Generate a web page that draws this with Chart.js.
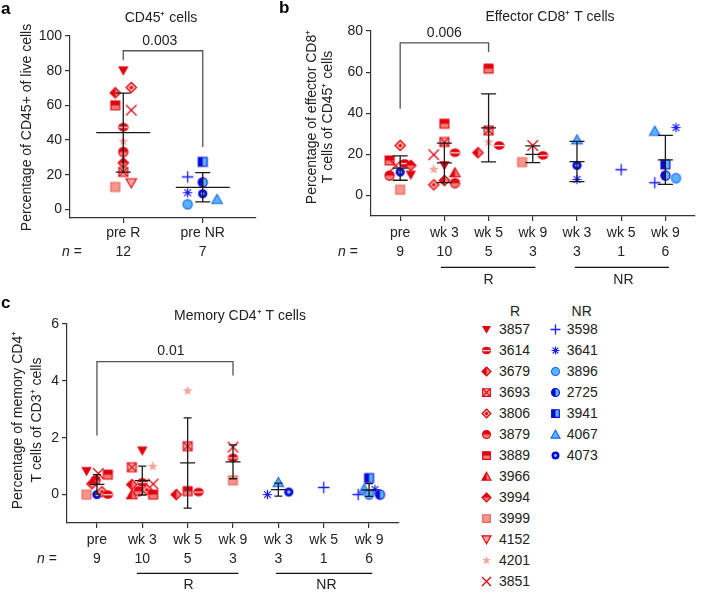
<!DOCTYPE html>
<html>
<head>
<meta charset="utf-8">
<title>Immune cell percentages by response</title>
<script src="https://cdn.jsdelivr.net/npm/chart.js@4.4.1/dist/chart.umd.min.js"></script>
<style>
  body { margin: 0; background: #fff; font-family: "Liberation Sans", Arial, Helvetica, sans-serif; color: #222; }
  #fig { position: relative; width: 701px; height: 592px; overflow: hidden; }
  #fig canvas.plot { position: absolute; }
  .letter { position: absolute; font-weight: bold; font-size: 17px; line-height: 17px; color: #000; }
  .leg { position: absolute; font-size: 14px; line-height: 16px; white-space: nowrap; }
  .legmark { position: absolute; }
</style>
</head>
<body>
<div id="fig">
  <canvas id="chartA" class="plot" width="262" height="290" style="left:0;top:0"></canvas>
  <canvas id="chartB" class="plot" width="439" height="290" style="left:262px;top:0"></canvas>
  <canvas id="chartC" class="plot" width="470" height="302" style="left:0;top:290px"></canvas>
  <div class="letter" style="left:1px;top:0">a</div>
  <div class="letter" style="left:279px;top:-1px">b</div>
  <div class="letter" style="left:1px;top:294px">c</div>
  <div id="legend"></div>
</div>
<script>
// patients, in legend order
const patientsR = ["3857", "3614", "3679", "3693", "3806", "3879", "3889", "3966", "3994", "3999", "4152", "4201", "3851"];
const patientsNR = ["3598", "3641", "3896", "2725", "3941", "4067", "4073"];

// a: CD45+ cells, % of live cells
const cd45Cats = ["pre R", "pre NR"];
const cd45N = [12, 7];
const cd45Ticks = [0, 20, 40, 60, 80, 100];
const cd45Ids = [
    ["3857", "3806", "3679", "3889", "3851", "3614", "4201", "3879", "3994", "3693", "3999", "4152"],
    ["3941", "3598", "2725", "3641", "4073", "3896", "4067"],
];
const cd45Vals = [
    [80, 70.3, 67.2, 60, 57.2, 47.4, 39.3, 33.1, 26.8, 21.6, 12.9, 15.2],
    [27.4, 18.7, 15.6, 9.6, 9.0, 2.9, 5.8],
];

// b: effector CD8+ T cells, % of CD45+ cells
const effCats = ["pre", "wk 3", "wk 5", "wk 9", "wk 3", "wk 5", "wk 9"];
const effN = [9, 10, 5, 3, 3, 1, 6];
const effTicks = [0, 20, 40, 60, 80];
const effIds = [
    ["3806", "3889", "3851", "3614", "3994", "3857", "4073", "3879", "3999"],
    ["3889", "3693", "3614", "3851", "3857", "4201", "3966", "3679", "3806", "3879"],
    ["3889", "3693", "4201", "3614", "3679"],
    ["3851", "3614", "3999"],
    ["4067", "4073", "3641"],
    ["3598"],
    ["4067", "3641", "3941", "2725", "3896", "3598"],
];
const effVals = [
    [24.3, 17.0, 14.5, 15.6, 14.6, 10.0, 11.4, 9.7, 2.8],
    [34.9, 26.0, 20.8, 19.8, 14.6, 12.7, 11.1, 7.3, 5.2, 6.0],
    [61.7, 31.6, 26.0, 24.3, 20.8],
    [24.3, 19.5, 16.2],
    [27.1, 14.6, 7.8],
    [12.5],
    [31.3, 33.0, 15.1, 9.7, 8.4, 6.2],
];

// c: memory CD4+ T cells, % of CD3+ cells
const memCats = ["pre", "wk 3", "wk 5", "wk 9", "wk 3", "wk 5", "wk 9"];
const memN = [9, 10, 5, 3, 3, 1, 6];
const memTicks = [0, 2, 4, 6];
const memIds = [
    ["3857", "3851", "3879", "3889", "3994", "3999", "4073", "3806", "3614"],
    ["3857", "3693", "4201", "3679", "3614", "3851", "3966", "3879", "3806", "3889"],
    ["4201", "3693", "3679", "3889", "3614"],
    ["3851", "3614", "3999"],
    ["4067", "4073", "3641"],
    ["3598"],
    ["3941", "4067", "3641", "3598", "3896", "2725"],
];
const memVals = [
    [0.82, 0.74, 0.50, 0.70, 0.38, 0, 0, 0.10, 0],
    [1.54, 0.96, 0.99, 0.35, 0.43, 0.37, 0, 0.12, 0.17, 0],
    [3.65, 1.70, 0, 0.12, 0.09],
    [1.67, 1.29, 0.50],
    [0.43, 0.09, 0],
    [0.25],
    [0.58, 0.20, 0.18, 0, 0, 0],
];

// horizontal spread of the dots inside a category (layout only, category units)
const cd45Jit = [[0, 0.1, -0.1, -0.1, 0.1, 0, 0, 0, 0, 0, -0.1, 0.1], [0, -0.19, 0, -0.19, 0, -0.19, 0.18]];
const effJit = [
    [0, -0.24, -0.1, 0.1, 0.24, 0.24, 0, -0.24, 0],
    [0, 0, 0.24, -0.24, 0, -0.24, 0.24, 0, -0.24, 0.24],
    [0, 0, 0, 0.24, -0.24],
    [0, 0.23, -0.24],
    [0, 0, 0],
    [0],
    [-0.24, 0.24, 0, 0, 0.24, -0.24],
];
const memJit = [
    [-0.23, 0.03, -0.03, 0.24, -0.11, -0.23, 0, 0.11, 0.24],
    [0, -0.23, 0.23, -0.23, 0, 0.24, -0.23, -0.08, 0.1, 0.24],
    [0, 0, -0.25, 0, 0.24],
    [0, 0, 0],
    [0, 0.23, -0.24],
    [0],
    [0, -0.11, 0.13, -0.24, 0, 0.24],
];

const FONT = '"Liberation Sans", Arial, Helvetica, sans-serif';
const TXT = "#222";
const AX = "#333";
const RED = "#e1000f", LRED = "#f47a74", PINK = "#f7a39c";
const BLUE = "#1b1bff", DBLUE = "#0a0ad8", LBLUE = "#58b4ff";

Chart.defaults.font.family = FONT;
Chart.defaults.color = TXT;

// marker glyphs, one per patient
function drawMarker(ctx, id, cx, cy, s) {
    const h = s / 2;
    const path = (pts) => {
        ctx.beginPath();
        pts.forEach(([px, py], k) => (k ? ctx.lineTo(cx + px, cy + py) : ctx.moveTo(cx + px, cy + py)));
        ctx.closePath();
    };
    const circle = (r) => { ctx.beginPath(); ctx.arc(cx, cy, r, 0, Math.PI * 2); };
    const split = (shape, dark, light, side, stroke) => {
        ctx.save();
        shape();
        ctx.clip();
        ctx.fillStyle = light;
        ctx.fillRect(cx - s, cy - s, 2 * s, 2 * s);
        ctx.fillStyle = dark;
        if (side === "top") ctx.fillRect(cx - s, cy - s, 2 * s, s);
        else ctx.fillRect(cx - s, cy - s, s, 2 * s);
        ctx.restore();
        shape();
        ctx.strokeStyle = stroke || dark;
        ctx.stroke();
    };
    const triDown = () => path([[-h, -h * 0.8], [h, -h * 0.8], [0, h * 0.95]]);
    const triUp = () => path([[0, -h * 0.95], [h, h * 0.8], [-h, h * 0.8]]);
    const diamond = () => path([[0, -h], [h, 0], [0, h], [-h, 0]]);
    const q = h * 0.85;
    const square = () => path([[-q, -q], [q, -q], [q, q], [-q, q]]);
    const round = () => circle(h * 0.88);
    ctx.save();
    ctx.lineWidth = 1.1;
    ctx.lineJoin = "miter";
    switch (id) {
        case "3857":
            triDown(); ctx.fillStyle = RED; ctx.fill(); break;
        case "4152":
            triDown(); ctx.fillStyle = PINK; ctx.fill(); ctx.strokeStyle = RED; ctx.stroke(); break;
        case "3614":
            ctx.save(); ctx.translate(cx, cy); ctx.scale(1, 0.82);
            ctx.beginPath(); ctx.arc(0, 0, h, 0, Math.PI * 2); ctx.restore();
            ctx.fillStyle = RED; ctx.fill();
            ctx.fillStyle = "#fbd0cc"; ctx.fillRect(cx - h * 0.9, cy - 0.6, h * 1.8, 1.4);
            break;
        case "3679":
            split(diamond, RED, LRED, "left"); break;
        case "3693":
            square(); ctx.fillStyle = PINK; ctx.fill(); ctx.strokeStyle = RED; ctx.stroke();
            ctx.beginPath();
            ctx.moveTo(cx - q, cy - q); ctx.lineTo(cx + q, cy + q);
            ctx.moveTo(cx + q, cy - q); ctx.lineTo(cx - q, cy + q);
            ctx.stroke(); break;
        case "3806":
            diamond(); ctx.fillStyle = PINK; ctx.fill(); ctx.strokeStyle = RED; ctx.stroke();
            circle(1.5); ctx.fillStyle = RED; ctx.fill(); break;
        case "3879":
            split(round, RED, LRED, "top"); break;
        case "3889":
            split(square, RED, LRED, "top"); break;
        case "3966":
            split(triUp, RED, LRED, "left"); break;
        case "3994":
            split(diamond, RED, LRED, "top"); break;
        case "3999":
            square(); ctx.fillStyle = "#f5958d"; ctx.fill(); ctx.strokeStyle = "#e9625a"; ctx.stroke(); break;
        case "4201": {
            ctx.beginPath();
            for (let k = 0; k < 10; k++) {
                const r = k % 2 ? h * 0.42 : h;
                const a = -Math.PI / 2 + (k * Math.PI) / 5;
                k ? ctx.lineTo(cx + r * Math.cos(a), cy + r * Math.sin(a)) : ctx.moveTo(cx + r * Math.cos(a), cy + r * Math.sin(a));
            }
            ctx.closePath(); ctx.fillStyle = "#f8a59d"; ctx.fill(); break;
        }
        case "3851":
            ctx.strokeStyle = RED; ctx.lineWidth = 1.3; ctx.beginPath();
            ctx.moveTo(cx - h, cy - h); ctx.lineTo(cx + h, cy + h);
            ctx.moveTo(cx + h, cy - h); ctx.lineTo(cx - h, cy + h);
            ctx.stroke(); break;
        case "3598":
            ctx.strokeStyle = BLUE; ctx.lineWidth = 1.3; ctx.beginPath();
            ctx.moveTo(cx - h * 1.1, cy); ctx.lineTo(cx + h * 1.1, cy);
            ctx.moveTo(cx, cy - h * 1.1); ctx.lineTo(cx, cy + h * 1.1);
            ctx.stroke(); break;
        case "3641":
            ctx.strokeStyle = BLUE; ctx.lineWidth = 1.2; ctx.beginPath();
            for (let k = 0; k < 4; k++) {
                const a = (k * Math.PI) / 4;
                ctx.moveTo(cx - h * 0.9 * Math.cos(a), cy - h * 0.9 * Math.sin(a));
                ctx.lineTo(cx + h * 0.9 * Math.cos(a), cy + h * 0.9 * Math.sin(a));
            }
            ctx.stroke(); break;
        case "3896":
            round(); ctx.fillStyle = LBLUE; ctx.fill(); ctx.strokeStyle = "#1560ff"; ctx.stroke(); break;
        case "2725":
            split(round, DBLUE, LBLUE, "left", DBLUE); break;
        case "3941":
            split(square, DBLUE, LBLUE, "left", DBLUE); break;
        case "4067":
            triUp(); ctx.fillStyle = LBLUE; ctx.fill(); ctx.strokeStyle = "#1560ff"; ctx.stroke(); break;
        case "4073":
            round(); ctx.fillStyle = DBLUE; ctx.fill();
            circle(h * 0.33); ctx.fillStyle = "#8fcaff"; ctx.fill(); break;
    }
    ctx.restore();
}

function markerCanvas(id, s) {
    const c = document.createElement("canvas");
    c.width = c.height = Math.ceil(s) + 4;
    drawMarker(c.getContext("2d"), id, c.width / 2, c.height / 2, s);
    return c;
}

function summarise(vals) {
    return vals.map((v) => {
        const n = v.length;
        const mean = v.reduce((a, b) => a + b, 0) / n;
        const sd = n > 1 ? Math.sqrt(v.reduce((a, b) => a + (b - mean) ** 2, 0) / (n - 1)) : 0;
        return { n, mean, sd };
    });
}

// mean/SD bars, significance bracket, titles, n row and group underlines
const deco = {
    id: "deco",
    afterDatasetsDraw(chart, args, o) {
        const { ctx, scales: { x, y } } = chart;
        ctx.save();
        ctx.strokeStyle = "#1a1a1a";
        ctx.lineWidth = 1.3;
        o.stats.forEach((s, i) => {
            if (s.n < 2) return;
            const cx = x.getPixelForValue(i);
            const yt = y.getPixelForValue(s.mean + s.sd);
            const yb = y.getPixelForValue(s.mean - s.sd);
            const ym = y.getPixelForValue(s.mean);
            ctx.beginPath();
            ctx.moveTo(cx, yt); ctx.lineTo(cx, yb);
            ctx.moveTo(cx - o.capHalf, yt); ctx.lineTo(cx + o.capHalf, yt);
            ctx.moveTo(cx - o.capHalf, yb); ctx.lineTo(cx + o.capHalf, yb);
            ctx.moveTo(cx - o.meanHalf, ym); ctx.lineTo(cx + o.meanHalf, ym);
            ctx.stroke();
        });
        ctx.restore();
    },
    afterDraw(chart, args, o) {
        const { ctx, scales: { x, y } } = chart;
        const normal = "14px " + FONT;
        ctx.save();
        ctx.fillStyle = TXT;
        ctx.font = normal;
        ctx.textAlign = "center";
        ctx.textBaseline = "middle";
        ctx.fillText(o.title, o.titleAt[0], o.titleAt[1]);

        ctx.save();
        ctx.translate(o.yTitleAt[0], o.yTitleAt[1]);
        ctx.rotate(-Math.PI / 2);
        o.yTitle.forEach((t, k) => ctx.fillText(t, 0, k * o.yTitleLH));
        ctx.restore();

        const b = o.bracket;
        const bx0 = x.getPixelForValue(b.x0), bx1 = x.getPixelForValue(b.x1), by = y.getPixelForValue(b.y);
        ctx.strokeStyle = "#555";
        ctx.lineWidth = 1.3;
        ctx.beginPath();
        ctx.moveTo(bx0, y.getPixelForValue(b.y0));
        ctx.lineTo(bx0, by);
        ctx.lineTo(bx1, by);
        ctx.lineTo(bx1, y.getPixelForValue(b.y1));
        ctx.stroke();
        ctx.fillText(b.label, x.getPixelForValue(b.lx), by - 10);

        ctx.font = "italic 14px " + FONT;
        const wN = ctx.measureText("n").width;
        ctx.font = normal;
        const wEq = ctx.measureText(" =").width;
        const sx = o.nAt[0] - (wN + wEq) / 2;
        ctx.textAlign = "left";
        ctx.font = "italic 14px " + FONT;
        ctx.fillText("n", sx, o.nAt[1]);
        ctx.font = normal;
        ctx.fillText(" =", sx + wN, o.nAt[1]);

        ctx.textAlign = "center";
        ctx.strokeStyle = "#111";
        ctx.lineWidth = 1.2;
        o.groups.forEach((g) => {
            ctx.beginPath();
            ctx.moveTo(x.getPixelForValue(g.x0), o.groupY);
            ctx.lineTo(x.getPixelForValue(g.x1), o.groupY);
            ctx.stroke();
            ctx.fillText(g.label, x.getPixelForValue(g.lx), o.groupLabelY);
        });
        ctx.restore();
    },
};

function buildPanel(canvasId, p) {
    const points = [];
    const styles = [];
    p.ids.forEach((grp, i) =>
        grp.forEach((id, j) => {
            points.push({ x: i + p.jit[i][j], y: p.vals[i][j] });
            styles.push(markerCanvas(id, 10.5));
        })
    );
    const axisGrid = { drawOnChartArea: false, drawTicks: true, tickLength: 5, color: AX, lineWidth: 1.2 };
    const axisBorder = { display: true, color: AX, width: 1.2 };
    return new Chart(document.getElementById(canvasId), {
        type: "scatter",
        data: {
            datasets: [{ data: points, pointStyle: styles, pointRadius: 5, pointHoverRadius: 5, clip: false }],
        },
        options: {
            responsive: false,
            animation: false,
            events: [],
            layout: { padding: p.pad },
            plugins: {
                legend: { display: false },
                tooltip: { enabled: false },
                deco: Object.assign({ stats: summarise(p.vals) }, p.deco),
            },
            scales: {
                x: {
                    type: "linear",
                    min: p.xMin,
                    max: p.xMax,
                    afterBuildTicks: (s) => { s.ticks = p.cats.map((c, i) => ({ value: i })); },
                    afterFit: (s) => { s.height = p.xH; },
                    grid: axisGrid,
                    border: axisBorder,
                    ticks: {
                        autoSkip: false,
                        maxRotation: 0,
                        padding: p.xPad,
                        color: TXT,
                        font: { size: 14, lineHeight: 19 / 14 },
                        callback: (v, i) => [p.cats[i], String(p.n[i])],
                    },
                },
                y: {
                    min: p.yMin,
                    max: p.yMax,
                    afterBuildTicks: (s) => { s.ticks = p.yTicks.map((v) => ({ value: v })); },
                    afterFit: (s) => { s.width = p.yW; },
                    grid: axisGrid,
                    border: axisBorder,
                    ticks: { padding: 3, color: TXT, font: { size: 14 } },
                },
            },
        },
        plugins: [deco],
    });
}

buildPanel("chartA", {
    cats: cd45Cats, n: cd45N, ids: cd45Ids, vals: cd45Vals, jit: cd45Jit, yTicks: cd45Ticks,
    xMin: -0.67, xMax: 1.67, yMin: -5, yMax: 100,
    pad: { top: 36, right: 3, left: 0, bottom: 0 }, yW: 70, xH: 72, xPad: 1,
    deco: {
        title: "CD45\u207A cells", titleAt: [161, 18],
        yTitle: ["Percentage of CD45+ of live cells"], yTitleAt: [27, 127.5], yTitleLH: 16,
        bracket: { x0: 0, x1: 1, y: 91.5, y0: 86, y1: 36, lx: 0.46, label: "0.003" },
        nAt: [72, 252], groups: [], groupY: 0, groupLabelY: 0,
        meanHalf: 27, capHalf: 7.5,
    },
});

buildPanel("chartB", {
    cats: effCats, n: effN, ids: effIds, vals: effVals, jit: effJit, yTicks: effTicks,
    xMin: -0.66, xMax: 6.67, yMin: -10, yMax: 80,
    pad: { top: 31, right: 0, left: 0, bottom: 0 }, yW: 109, xH: 74, xPad: 2.5,
    deco: {
        title: "Effector CD8\u207A T cells", titleAt: [288, 17],
        yTitle: ["Percentage of effector CD8\u207A", "T cells of CD45\u207A cells"], yTitleAt: [50, 117], yTitleLH: 16,
        bracket: { x0: 0, x1: 2, y: 74.2, y0: 42.2, y1: 69.8, lx: 1, label: "0.006" },
        nAt: [86, 252],
        groups: [{ x0: 0.92, x1: 3.06, lx: 2, label: "R" }, { x0: 3.95, x1: 6.08, lx: 5.05, label: "NR" }],
        groupY: 267.3, groupLabelY: 280,
        meanHalf: 7.5, capHalf: 7.5,
    },
});

buildPanel("chartC", {
    cats: memCats, n: memN, ids: memIds, vals: memVals, jit: memJit, yTicks: memTicks,
    xMin: -0.66, xMax: 6.66, yMin: -1, yMax: 6,
    pad: { top: 34, right: 71, left: 0, bottom: 0 }, yW: 67, xH: 69, xPad: 2.2,
    deco: {
        title: "Memory CD4\u207A T cells", titleAt: [240, 26],
        yTitle: ["Percentage of memory CD4\u207A", "T cells of CD3\u207A cells"], yTitleAt: [18.3, 130], yTitleLH: 18.4,
        bracket: { x0: 0, x1: 3, y: 4.68, y0: 2.08, y1: 4.19, lx: 1.63, label: "0.01" },
        nAt: [47, 269],
        groups: [{ x0: 0.88, x1: 3.12, lx: 2.02, label: "R" }, { x0: 3.95, x1: 6.07, lx: 5.06, label: "NR" }],
        groupY: 283.3, groupLabelY: 295,
        meanHalf: 7.5, capHalf: 4,
    },
});

// patient legend
const legend = document.getElementById("legend");
function legendColumn(head, ids, markX, textX, headX) {
    const h = document.createElement("div");
    h.className = "leg";
    h.textContent = head;
    h.style.left = headX - 20 + "px";
    h.style.width = "40px";
    h.style.textAlign = "center";
    h.style.top = 311 - 8 + "px";
    legend.appendChild(h);
    ids.forEach((id, k) => {
        const yc = 329 + 21 * k;
        const m = markerCanvas(id, 9);
        m.className = "legmark";
        m.style.left = markX - m.width / 2 + "px";
        m.style.top = yc - m.height / 2 + "px";
        legend.appendChild(m);
        const t = document.createElement("div");
        t.className = "leg";
        t.textContent = id;
        t.style.left = textX + "px";
        t.style.top = yc - 8 + "px";
        legend.appendChild(t);
    });
}
legendColumn("R", patientsR, 486.7, 499, 515);
legendColumn("NR", patientsNR, 555, 566.7, 581.7);
</script>
</body>
</html>
